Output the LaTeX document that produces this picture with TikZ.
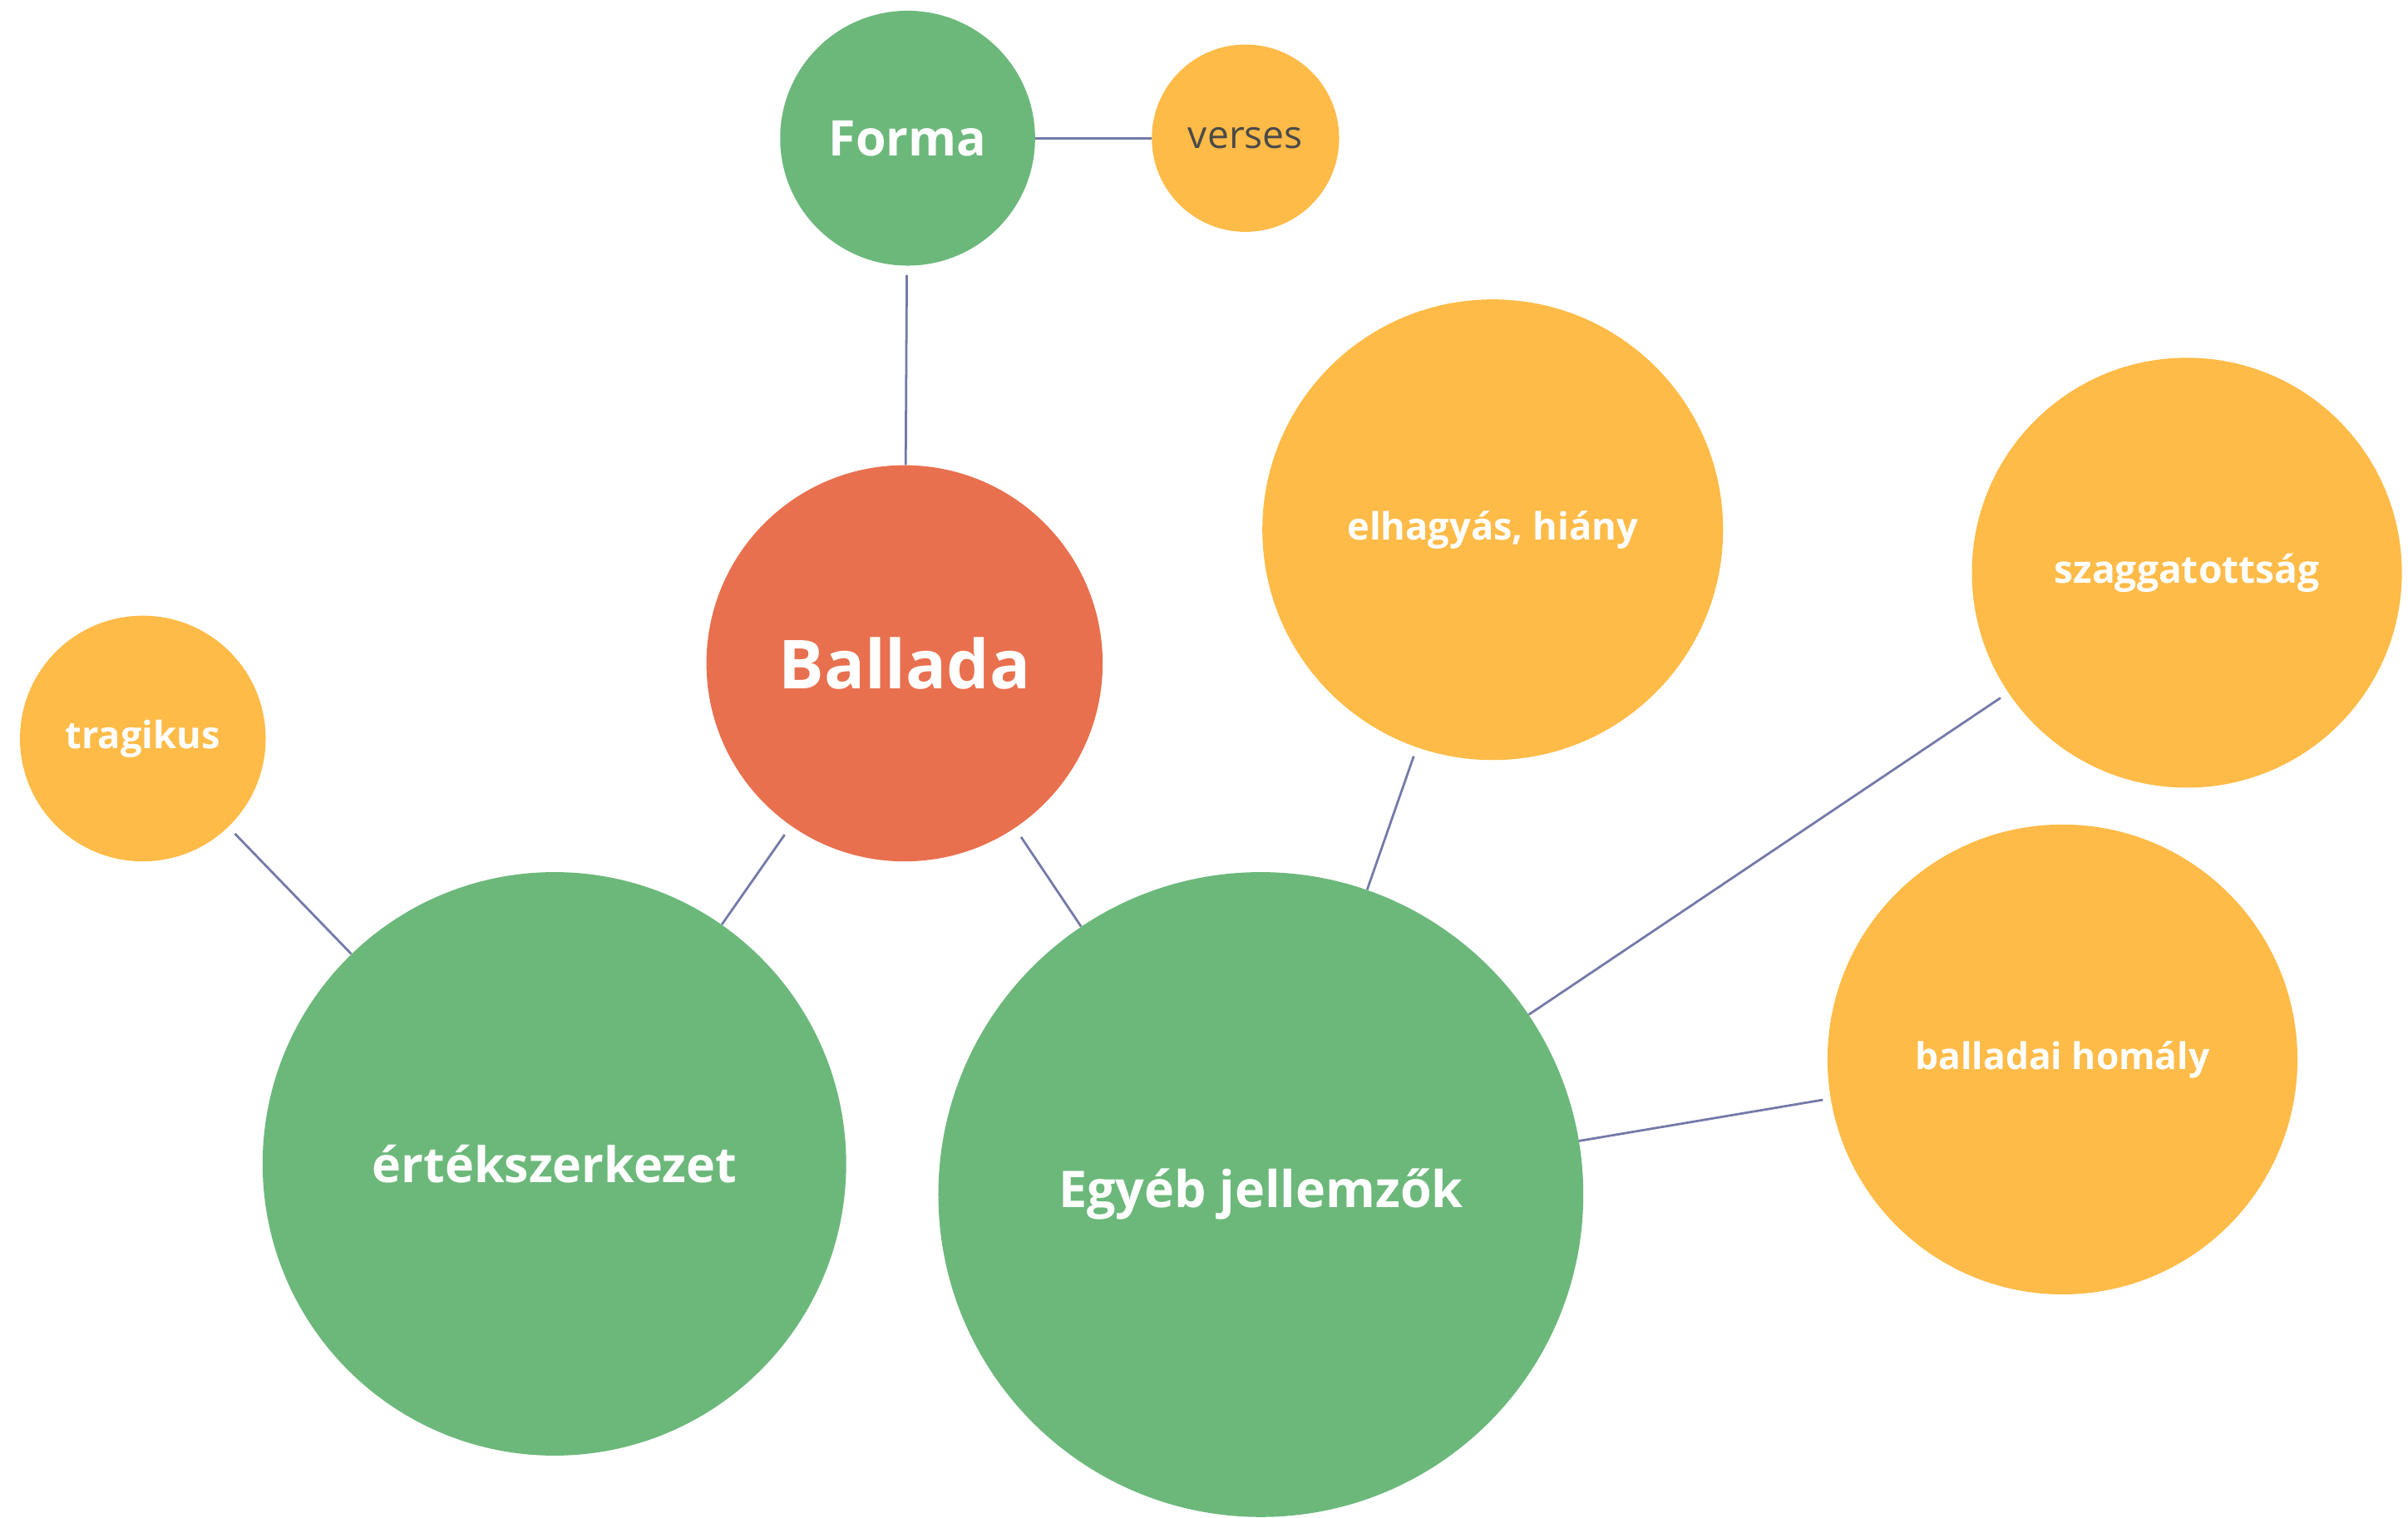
\documentclass[tikz,border=0pt]{standalone}
\usepackage{fontspec}
\setmainfont{Open Sans}
\definecolor{cgreen}{HTML}{6CB87B}
\definecolor{corange}{HTML}{FEBB48}
\definecolor{cred}{HTML}{E8704E}
\definecolor{cline}{HTML}{7479A8}
\definecolor{ctext}{HTML}{4A4A4A}
\begin{document}
\begin{tikzpicture}[x=1pt,y=-1pt,
  bub/.style={circle,inner sep=0pt,minimum size=#1,text=white},
  gbub/.style={bub=#1,fill=cgreen},
  obub/.style={bub=#1,fill=corange},
  rbub/.style={bub=#1,fill=cred},
  fsz/.style={font=\bfseries\fontsize{#1}{#1}\selectfont},
  link/.style={draw=cline,line width=1.5pt}]
\useasboundingbox (0,0) rectangle (1568,988.6);
\node[gbub=166pt,fsz=32] (forma) at (591,90) {Forma};
\node[obub=122pt,text=ctext,font=\fontsize{25}{25}\selectfont] (verses) at (811,90) {verses};
\node[rbub=258pt,fsz=44] (ballada) at (589,432) {Ballada};
\node[obub=160pt,fsz=24.5] (tragikus) at (93,481) {tragikus};
\node[gbub=380pt,fsz=32] (ertek) at (361,758) {értékszerkezet};
\node[gbub=420pt,fsz=33] (egyeb) at (821,778) {Egyéb jellemzők};
\node[obub=300pt,fsz=24.5] (elhagy) at (972,345) {elhagyás, hiány};
\node[obub=280pt,fsz=25] (szagg) at (1424,373) {szaggatottság};
\node[obub=306pt,fsz=24] (homaly) at (1343,690) {balladai homály};
\draw[link] (forma) -- (verses);
\draw[link,shorten <=6pt] (forma) -- (ballada);
\draw[link,shorten <=7pt] (ballada) -- (ertek);
\draw[link,shorten <=7pt] (ballada) -- (egyeb);
\draw[link,shorten <=6pt] (tragikus) -- (ertek);
\draw[link,shorten <=6pt] (elhagy) -- (egyeb);
\draw[link,shorten <=6pt] (szagg) -- (egyeb);
\draw[link,shorten <=5pt] (homaly) -- (egyeb);
\end{tikzpicture}
\end{document}
